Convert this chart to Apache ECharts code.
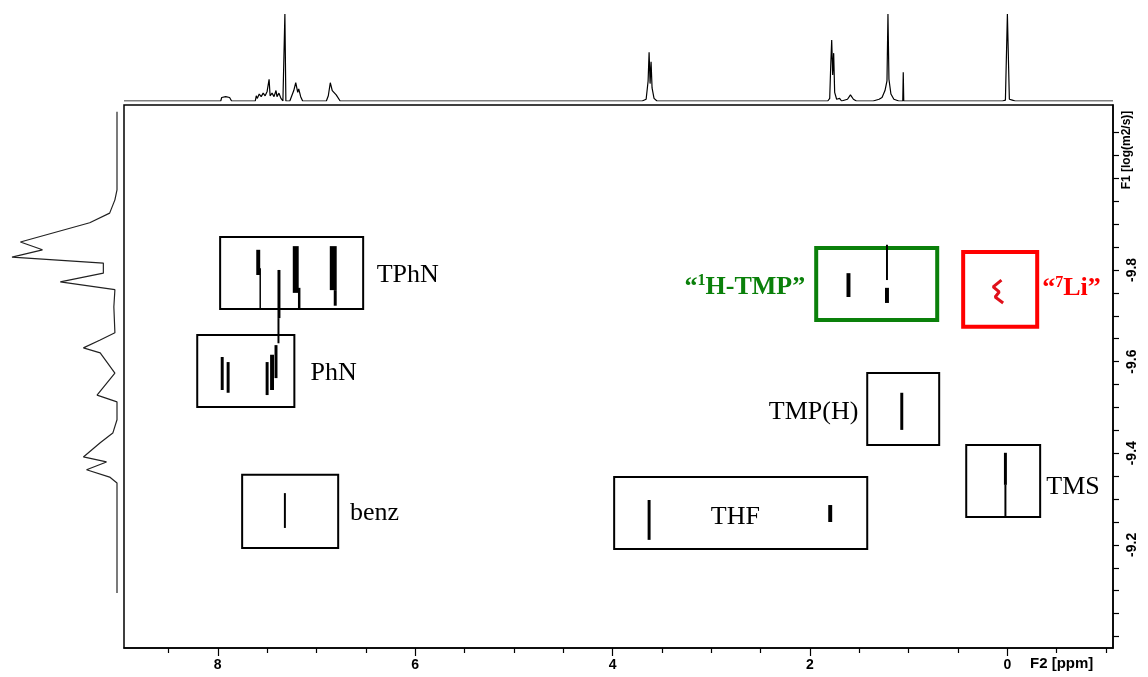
<!DOCTYPE html>
<html><head><meta charset="utf-8">
<script src="https://cdn.jsdelivr.net/npm/echarts@6/dist/echarts.min.js"></script>
<style>html,body{margin:0;padding:0;background:#fff}#c{width:1148px;height:677px}</style>
</head><body><div id="c"></div>
<script>
// ---------- axes ----------
const ppmRange = [-1.07, 8.95];
const logDRange = [-10.16, -8.975];
const xMajorTicks = [8, 6, 4, 2, 0];
const xMinorTicks = [8.5, 7.5, 7, 6.5, 5.5, 5, 4.5, 3.5, 3, 2.5, 1.5, 1, 0.5, -0.5, -1];
const yTickValues = [-10.1,-10.05,-10,-9.95,-9.9,-9.85,-9.8,-9.75,-9.7,-9.65,-9.6,-9.55,-9.5,-9.45,-9.4,-9.35,-9.3,-9.25,-9.2,-9.15,-9.1,-9.05,-9.0];
const yLabelValues = [-9.8, -9.6, -9.4, -9.2];

// ---------- 1D 1H projection (ppm, intensity) ----------
const proj1H = [
 [8.95,0],[7.97,0],[7.96,4],[7.94,2],[7.92,5],[7.90,3],[7.88,4],[7.86,0],
 [7.62,0],[7.61,6],[7.60,3],[7.58,8],[7.56,5],[7.54,9],[7.52,6],[7.50,11],[7.48,25],[7.47,6],[7.45,9],[7.43,5],[7.41,12],[7.40,5],[7.38,9],[7.36,3],[7.34,0],
 [7.33,0],[7.32,100],[7.31,0],
 [7.27,0],[7.25,6],[7.23,12],[7.21,21],[7.19,10],[7.18,14],[7.16,5],[7.14,0],
 [6.90,0],[6.88,6],[6.86,21],[6.84,12],[6.82,14],[6.80,7],[6.78,5],[6.76,0],
 [3.70,0],[3.66,2],[3.64,23],[3.63,56],[3.62,20],[3.61,45],[3.60,15],[3.58,3],[3.55,0],
 [1.82,0],[1.80,3],[1.79,40],[1.78,70],[1.77,30],[1.76,55],[1.75,10],[1.73,2],[1.70,3],[1.68,0],
 [1.62,2],[1.59,7],[1.56,2],[1.53,0],
 [1.36,0],[1.34,2],[1.30,2],[1.27,4],[1.24,12],[1.22,23],[1.21,100],[1.20,25],[1.18,8],[1.15,2],[1.10,0],
 [1.06,0],[1.055,33],[1.05,0],
 [0.05,0],[0.04,2],[0.02,1],[0.0,100],[-0.02,2],[-0.05,1],[-0.08,0],[-1.07,0]
];

// ---------- diffusion projection (intensity, logD) ----------
const projD = [
 [0,-10.145],[0,-9.975],[2,-9.953],[7,-9.924],[26,-9.903],[92,-9.861],[71,-9.844],[100,-9.828],
 [13,-9.815],[13,-9.793],[54,-9.774],[2,-9.757],[3,-9.719],[2,-9.663],[16,-9.647],[32,-9.630],
 [16,-9.619],[2,-9.575],[19,-9.527],[0,-9.512],[0,-9.473],[4,-9.444],[16,-9.423],[32,-9.392],
 [10,-9.381],[29,-9.364],[7,-9.348],[0,-9.335],[0,-9.095]
];

// ---------- 2D cross peaks: [ppm, logD top, logD bottom, width ppm] ----------
const tphnPeaks = [
 [7.59,-9.844,-9.789,0.04],[7.57,-9.804,-9.715,0.015],
 [7.38,-9.800,-9.695,0.03],[7.385,-9.695,-9.640,0.02],
 [7.21,-9.852,-9.750,0.06],[7.175,-9.761,-9.713,0.025],
 [6.83,-9.852,-9.756,0.07],[6.81,-9.756,-9.722,0.03]
];
const phnPeaks = [
 [7.50,-9.599,-9.527,0.03],[7.45,-9.615,-9.538,0.04],[7.41,-9.636,-9.564,0.03],
 [7.955,-9.610,-9.538,0.03],[7.895,-9.599,-9.532,0.03]
];
const benzPeaks = [[7.32,-9.313,-9.237,0.02]];
const thfPeaks = [[3.63,-9.298,-9.211,0.03],[1.795,-9.287,-9.250,0.04]];
const tmphPeaks = [[1.07,-9.532,-9.451,0.03]];
const tmsPeaks = [[0.02,-9.401,-9.331,0.03],[0.02,-9.331,-9.261,0.02]];
const tmpPeaks = [[1.61,-9.793,-9.741,0.04],[1.22,-9.855,-9.778,0.02],[1.22,-9.761,-9.728,0.04]];
const liContour = [[0.06,-9.778],[0.144,-9.763],[0.083,-9.752],[0.124,-9.741],[0.043,-9.728]];

// ---------- boxes: [ppm left, ppm right, logD top, logD bottom] ----------
const blackBoxes = [
 [7.976,6.527,-9.872,-9.715],
 [8.208,7.224,-9.658,-9.501],
 [7.753,6.780,-9.353,-9.193],
 [3.984,1.420,-9.348,-9.191],
 [1.420,0.691,-9.575,-9.418],
 [0.417,-0.332,-9.418,-9.261]
];
const greenBox = [[1.937,0.711,-9.848,-9.691]];
const redBox = [[0.448,-0.302,-9.839,-9.676]];

// ---------- annotations ----------
const plainLabels = [
 {text:'TPhN', ppm:6.39, logD:-9.789, align:'left'},
 {text:'PhN', ppm:7.06, logD:-9.575, align:'left'},
 {text:'benz', ppm:6.66, logD:-9.270, align:'left'},
 {text:'THF', ppm:2.756, logD:-9.261, align:'center'},
 {text:'TMP(H)', ppm:1.51, logD:-9.490, align:'right'},
 {text:'TMS', ppm:-0.394, logD:-9.327, align:'left'}
];
const colorLabels = [
 {pre:'“', sup:'1', post:'H-TMP”', ppm:2.049, logD:-9.763, align:'right', kind:'green'},
 {pre:'“', sup:'7', post:'Li”', ppm:-0.353, logD:-9.759, align:'left', kind:'red'}
];

const GREEN = '#0a800a', RED = '#ff0000';

function peakSeries(arr){
  return {
    type:'custom', xAxisIndex:0, yAxisIndex:0, clip:true,
    data: arr.map(p => [p[0], p[1], p[2], p[3]]),
    encode:{x:0, y:[1,2]},
    renderItem:function(params, api){
      const c = api.value(0), w = api.value(3);
      const a = api.coord([c + w/2, api.value(1)]);
      const b = api.coord([c - w/2, api.value(2)]);
      return {type:'rect', shape:{x:Math.min(a[0],b[0]), y:Math.min(a[1],b[1]),
        width:Math.max(1.2, Math.abs(b[0]-a[0])), height:Math.abs(b[1]-a[1])},
        style:{fill:'#000'}};
    }
  };
}
function boxSeries(arr, color, lw){
  return {
    type:'custom', xAxisIndex:0, yAxisIndex:0,
    data: arr.map(b => [b[0], b[1], b[2], b[3]]),
    encode:{x:[0,1], y:[2,3]},
    renderItem:function(params, api){
      const a = api.coord([api.value(0), api.value(2)]);
      const b = api.coord([api.value(1), api.value(3)]);
      return {type:'rect', shape:{x:a[0], y:a[1], width:b[0]-a[0], height:b[1]-a[1]},
        style:{fill:'none', stroke:color, lineWidth:lw}};
    }
  };
}

const chart = echarts.init(document.getElementById('c'), null, {renderer:'canvas'});
const option = {
  animation:false,
  backgroundColor:'#fff',
  grid:[
    {left:124, top:105, width:989, height:543, show:true, borderColor:'#000', borderWidth:1.5, backgroundColor:'transparent'},
    {left:124, top:14, width:989, height:87},
    {left:12, top:105, width:105, height:543}
  ],
  xAxis:[
    {gridIndex:0, type:'value', min:ppmRange[0], max:ppmRange[1], inverse:true, position:'bottom',
     axisLine:{show:true, onZero:false, lineStyle:{color:'#000', width:1.5}},
     axisTick:{show:true, customValues:xMajorTicks, length:8, lineStyle:{color:'#000', width:1.2}},
     axisLabel:{show:true, customValues:xMajorTicks, margin:10, color:'#000', fontFamily:'Liberation Sans', fontWeight:'bold', fontSize:14},
     splitLine:{show:false}},
    {gridIndex:0, type:'value', min:ppmRange[0], max:ppmRange[1], inverse:true, position:'bottom',
     axisLine:{show:false}, axisLabel:{show:false}, splitLine:{show:false},
     axisTick:{show:true, customValues:xMinorTicks, length:5, lineStyle:{color:'#000', width:1.2}}},
    {gridIndex:1, type:'value', min:ppmRange[0], max:ppmRange[1], inverse:true, show:false},
    {gridIndex:2, type:'value', min:0, max:100, inverse:true, show:false}
  ],
  yAxis:[
    {gridIndex:0, type:'value', min:logDRange[0], max:logDRange[1], inverse:true, position:'right',
     axisLine:{show:true, onZero:false, lineStyle:{color:'#000', width:1.5}},
     axisTick:{show:true, customValues:yTickValues, length:6, lineStyle:{color:'#000', width:1.2}},
     axisLabel:{show:true, customValues:yLabelValues, rotate:90, margin:12, color:'#000', fontFamily:'Liberation Sans', fontWeight:'bold', fontSize:14,
       formatter:v => v.toFixed(1)},
     splitLine:{show:false}},
    {gridIndex:1, type:'value', min:0, max:100, show:false},
    {gridIndex:2, type:'value', min:logDRange[0], max:logDRange[1], inverse:true, show:false}
  ],
  graphic:[
    {type:'text', left:1030, top:656, style:{text:'F2 [ppm]', fill:'#000', font:'bold 15px "Liberation Sans"'}},
    {type:'text', x:1127, y:150, rotation:Math.PI/2, style:{text:'F1 [log(m2/s)]', fill:'#000', font:'bold 12px "Liberation Sans"', align:'center', verticalAlign:'middle'}}
  ],
  series:[
    {type:'line', xAxisIndex:2, yAxisIndex:1, data:proj1H, showSymbol:false, symbol:'none',
     lineStyle:{color:'#000', width:1.2}, silent:true},
    {type:'line', xAxisIndex:3, yAxisIndex:2, data:projD, showSymbol:false, symbol:'none',
     lineStyle:{color:'#222', width:1.2}, silent:true},
    boxSeries(blackBoxes, '#000', 2),
    boxSeries(greenBox, GREEN, 4),
    boxSeries(redBox, RED, 4),
    peakSeries(tphnPeaks), peakSeries(phnPeaks), peakSeries(benzPeaks), peakSeries(thfPeaks),
    peakSeries(tmphPeaks), peakSeries(tmsPeaks), peakSeries(tmpPeaks),
    {type:'line', xAxisIndex:0, yAxisIndex:0, data:liContour, showSymbol:false, symbol:'none',
     lineStyle:{color:'#e0101a', width:3}, silent:true},
    {type:'custom', xAxisIndex:0, yAxisIndex:0,
     data: plainLabels.map(l => [l.ppm, l.logD]), encode:{x:0, y:1},
     renderItem:function(params, api){
       const l = plainLabels[params.dataIndex];
       const p = api.coord([api.value(0), api.value(1)]);
       return {type:'text', x:p[0], y:p[1], style:{text:l.text, fill:'#000',
         font:'26px "Liberation Serif"', align:l.align, verticalAlign:'middle'}};
     }},
    {type:'custom', xAxisIndex:0, yAxisIndex:0,
     data: colorLabels.map(l => [l.ppm, l.logD]), encode:{x:0, y:1},
     renderItem:function(params, api){
       const l = colorLabels[params.dataIndex];
       const col = l.kind === 'green' ? GREEN : RED;
       const p = api.coord([api.value(0), api.value(1)]);
       return {type:'text', x:p[0], y:p[1], style:{
         text:'{m|' + l.pre + '}{s|' + l.sup + '}{m|' + l.post + '}',
         align:l.align, verticalAlign:'middle',
         rich:{
           m:{fill:col, fontFamily:'Liberation Serif', fontWeight:'bold', fontSize:26, lineHeight:28},
           s:{fill:col, fontFamily:'Liberation Serif', fontWeight:'bold', fontSize:16, lineHeight:28, verticalAlign:'top'}
         }}};
     }}
  ]
};
chart.setOption(option);
</script></body></html>
